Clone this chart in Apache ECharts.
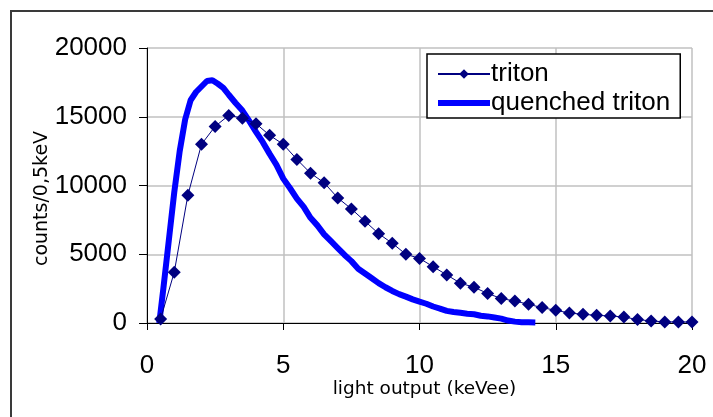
<!DOCTYPE html>
<html>
<head>
<meta charset="utf-8">
<script src="https://cdn.jsdelivr.net/npm/echarts@6/dist/echarts.min.js"></script>
<style>html,body{margin:0;padding:0;background:#fff}#c{width:713px;height:417px}</style>
</head>
<body>
<div id="c"></div>
<script>
// ---- data ----
const tritonX = [0.5,1,1.5,2,2.5,3,3.5,4,4.5,5,5.5,6,6.5,7,7.5,8,8.5,9,9.5,10,10.5,11,11.5,12,12.5,13,13.5,14,14.5,15,15.5,16,16.5,17,17.5,18,18.5,19,19.5,20];
const tritonY = [300,3700,9300,13000,14300,15100,14900,14500,13650,13000,11900,10900,10200,9100,8300,7400,6500,5800,5000,4700,4100,3500,2900,2600,2150,1780,1600,1360,1120,920,730,630,560,510,440,250,150,80,80,70];
const quenchedX = [0.45,0.6,0.8,1.0,1.2,1.4,1.6,1.8,2.0,2.2,2.4,2.6,2.8,3.0,3.25,3.5,3.75,4.0,4.25,4.5,4.75,5.0,5.25,5.5,5.75,6.0,6.25,6.5,6.75,7.0,7.25,7.5,7.75,8.0,8.25,8.5,8.75,9.0,9.25,9.5,9.75,10.0,10.25,10.5,10.75,11.0,11.25,11.5,11.75,12.0,12.25,12.5,12.75,13.0,13.25,13.5,13.75,14.0,14.25];
const quenchedY = [0,2500,6000,9500,12500,14800,16200,16800,17200,17600,17650,17400,17100,16600,16000,15450,14700,13900,13150,12300,11500,10500,9800,9050,8450,7650,7100,6450,5950,5450,4950,4500,3950,3600,3250,2900,2600,2330,2100,1920,1720,1550,1400,1200,1050,880,800,740,680,640,530,480,400,320,180,100,60,50,40];
const xTicks = [0,5,10,15,20];
const yTicks = [0,5000,10000,15000,20000];
const seriesNames = ['triton','quenched triton'];
const xName = 'light output (keVee)';
const yName = 'counts/0,5keV';

const pair = (xs, ys) => xs.map((x, i) => [x, ys[i]]);

const chart = echarts.init(document.getElementById('c'), null, {renderer: 'canvas'});
chart.setOption({
  animation: false,
  backgroundColor: '#fff',
  graphic: [{
    type: 'rect', silent: true, z: -1,
    shape: {x: 11, y: 11, width: 760, height: 460},
    style: {fill: 'none', stroke: '#3a3a3a', lineWidth: 2}
  }],
  grid: {left: 147, right: 21, top: 48, bottom: 94, containLabel: false},
  xAxis: {
    type: 'value', min: xTicks[0], max: xTicks[xTicks.length - 1], interval: 5,
    name: xName, nameLocation: 'middle', nameGap: 57, nameMoveOverlap: false,
    nameTextStyle: {fontFamily: 'DejaVu Sans', fontSize: 18.5, color: '#000', padding: [0, 0, 0, 10]},
    axisLine: {lineStyle: {color: '#000', width: 1}},
    axisTick: {show: true, inside: false, length: 7, lineStyle: {color: '#000'}},
    axisLabel: {fontFamily: 'Liberation Sans', fontSize: 26, color: '#000', margin: 30, formatter: v => String(v)},
    splitLine: {show: true, lineStyle: {color: '#c0c0c0', width: 1.5}}
  },
  yAxis: {
    type: 'value', min: yTicks[0], max: yTicks[yTicks.length - 1], interval: 5000,
    name: yName, nameLocation: 'middle', nameGap: 95, nameRotate: 90, nameMoveOverlap: false,
    nameTextStyle: {fontFamily: 'DejaVu Sans', fontSize: 19, color: '#000', padding: [0, 26, 0, 0]},
    axisLine: {show: true, lineStyle: {color: '#000', width: 1}},
    axisTick: {show: true, inside: false, length: 8, lineStyle: {color: '#000'}},
    axisLabel: {fontFamily: 'Liberation Sans', fontSize: 26, color: '#000', margin: 20, formatter: v => String(v)},
    splitLine: {show: true, lineStyle: {color: '#c0c0c0', width: 1.5}}
  },
  legend: {
    orient: 'vertical', left: 427, top: 54,
    backgroundColor: '#fff', borderColor: '#000', borderWidth: 1.5,
    padding: [7, 10, 2, 10], itemGap: 3, itemWidth: 52, itemHeight: 12,
    textStyle: {fontFamily: 'Liberation Sans', fontSize: 26, color: '#000', padding: [0, 0, 0, -4]},
    data: [
      {name: seriesNames[0]},
      {name: seriesNames[1], icon: 'path://M0,0L52,0L52,6L0,6Z'}
    ]
  },
  series: [
    {
      name: seriesNames[1], type: 'line', data: pair(quenchedX, quenchedY),
      showSymbol: false, symbol: 'none', z: 2,
      lineStyle: {color: '#0000ff', width: 6},
      itemStyle: {color: '#0000ff'}
    },
    {
      name: seriesNames[0], type: 'line', data: pair(tritonX, tritonY),
      symbol: 'diamond', symbolSize: 13, z: 3,
      lineStyle: {color: '#000080', width: 1},
      itemStyle: {color: '#000080'}
    }
  ]
});
</script>
</body>
</html>
